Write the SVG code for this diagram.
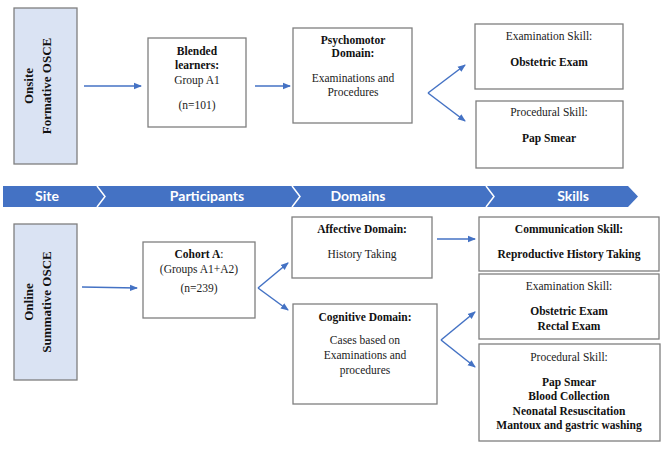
<svg xmlns="http://www.w3.org/2000/svg" width="669" height="450" viewBox="0 0 669 450">
<defs>
<marker id="ah" markerWidth="8" markerHeight="8" refX="7" refY="4" orient="auto" markerUnits="userSpaceOnUse">
<path d="M0,0.8 L8,4 L0,7.2 Z" fill="#4472C4"/>
</marker>
</defs>
<style>
.box{fill:#fff;stroke:#7f7f7f;stroke-width:1.3}
.site{fill:#DAE3F3;stroke:#7f7f7f;stroke-width:1.3}
text{font-family:"Liberation Serif","Times New Roman",serif;font-size:11.5px;fill:#222;text-anchor:middle}
.b{font-weight:bold;fill:#111}
.v{font-size:13px;font-weight:bold;fill:#111}
.bn{font-family:Lato,"Open Sans",sans-serif;font-size:14px;font-weight:bold;fill:#fff}
.c{fill:none;stroke:#4472C4;stroke-width:1.5;marker-end:url(#ah)}
.sep{fill:none;stroke:#fff;stroke-width:1.5}
</style>

<g id="banner">
<polygon points="3,186 628,186 638,196.5 628,207 3,207" fill="#4472C4"/>
<polyline class="sep" points="97,186 105,196.5 97,207"/>
<polyline class="sep" points="292,186 300,196.5 292,207"/>
<polyline class="sep" points="486,186 494,196.5 486,207"/>
<text class="bn" x="47" y="201">Site</text>
<text class="bn" x="207" y="201">Participants</text>
<text class="bn" x="358" y="201">Domains</text>
<text class="bn" x="573" y="201">Skills</text>
</g>

<g id="onsite">
<rect class="site" x="14" y="8" width="63" height="156"/>
<text class="v" transform="translate(33,86) rotate(-90)">Onsite</text>
<text class="v" transform="translate(51,86) rotate(-90)">Formative OSCE</text>
</g>

<g id="blended">
<rect class="box" x="148" y="38" width="98" height="89"/>
<text class="b" x="197" y="55">Blended</text>
<text class="b" x="197" y="69">learners:</text>
<text x="197" y="84">Group A1</text>
<text x="197" y="109">(n=101)</text>
</g>

<g id="psychomotor">
<rect class="box" x="293" y="28" width="119" height="95"/>
<text class="b" x="353" y="44">Psychomotor</text>
<text class="b" x="353" y="57">Domain:</text>
<text x="353" y="82">Examinations and</text>
<text x="353" y="96">Procedures</text>
</g>

<g id="exam1">
<rect class="box" x="475" y="24" width="148" height="65"/>
<text x="549" y="40">Examination Skill:</text>
<text class="b" x="549" y="66">Obstetric Exam</text>
</g>

<g id="proc1">
<rect class="box" x="476" y="101" width="147" height="67"/>
<text x="549" y="116">Procedural Skill:</text>
<text class="b" x="549" y="142">Pap Smear</text>
</g>

<g id="online">
<rect class="site" x="14" y="224" width="63" height="156"/>
<text class="v" transform="translate(33,302) rotate(-90)">Online</text>
<text class="v" transform="translate(51,302) rotate(-90)">Summative OSCE</text>
</g>

<g id="cohort">
<rect class="box" x="143" y="242" width="112" height="76"/>
<text x="199" y="258"><tspan class="b">Cohort A</tspan>:</text>
<text x="199" y="273">(Groups A1+A2)</text>
<text x="199" y="292">(n=239)</text>
</g>

<g id="affective">
<rect class="box" x="292" y="217" width="140" height="61"/>
<text class="b" x="362" y="233">Affective Domain:</text>
<text x="362" y="258">History Taking</text>
</g>

<g id="cognitive">
<rect class="box" x="293" y="304" width="144" height="100"/>
<text class="b" x="365" y="321">Cognitive Domain:</text>
<text x="365" y="344">Cases based on</text>
<text x="365" y="359">Examinations and</text>
<text x="365" y="374">procedures</text>
</g>

<g id="communication">
<rect class="box" x="479" y="217" width="180" height="54"/>
<text class="b" x="569" y="233">Communication Skill:</text>
<text class="b" x="569" y="258">Reproductive History Taking</text>
</g>

<g id="exam2">
<rect class="box" x="479" y="274" width="180" height="65"/>
<text x="569" y="290">Examination Skill:</text>
<text class="b" x="569" y="315">Obstetric Exam</text>
<text class="b" x="569" y="330">Rectal Exam</text>
</g>

<g id="proc2">
<rect class="box" x="479" y="344" width="181" height="97"/>
<text x="569" y="361">Procedural Skill:</text>
<text class="b" x="569" y="386">Pap Smear</text>
<text class="b" x="569" y="400">Blood Collection</text>
<text class="b" x="569" y="415">Neonatal Resuscitation</text>
<text class="b" x="569" y="429">Mantoux and gastric washing</text>
</g>

<g id="connectors">
<line class="c" x1="84" y1="86" x2="141" y2="86"/>
<line class="c" x1="255" y1="86" x2="290" y2="86"/>
<line class="c" x1="428" y1="93" x2="465" y2="65"/>
<line class="c" x1="428" y1="93" x2="465" y2="121"/>
<line class="c" x1="82" y1="287" x2="137" y2="288"/>
<line class="c" x1="258" y1="288" x2="288" y2="263"/>
<line class="c" x1="258" y1="288" x2="288" y2="310"/>
<line class="c" x1="437" y1="239" x2="475" y2="239"/>
<line class="c" x1="441" y1="340" x2="475" y2="312"/>
<line class="c" x1="441" y1="340" x2="475" y2="367"/>
</g>
</svg>
